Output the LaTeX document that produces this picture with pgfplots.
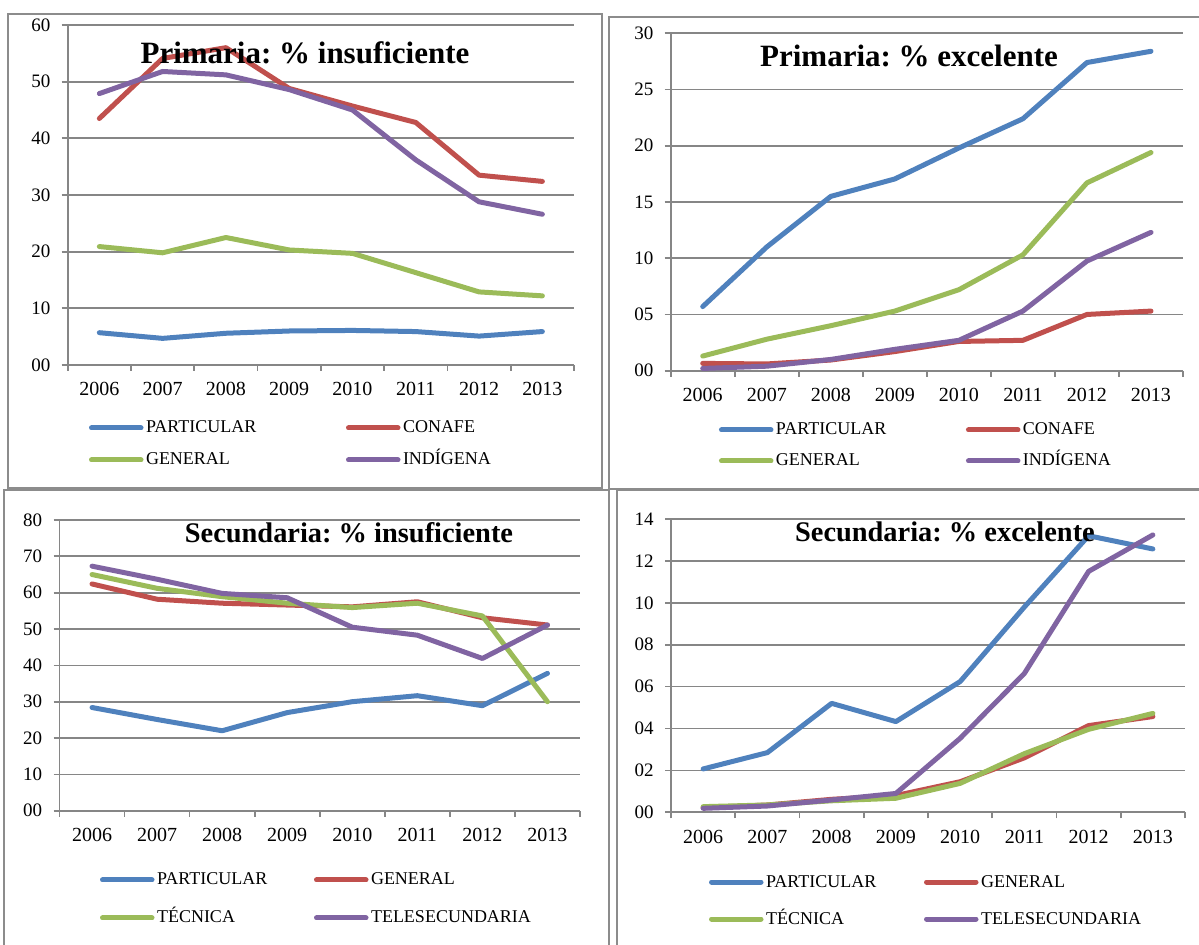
\documentclass[border=0pt]{standalone}
\usepackage{pgfplots}
\usepackage{pgfplotstable}
\pgfplotsset{compat=1.18}
\usepackage{fontspec}
\setmainfont{Liberation Serif}
\definecolor{cBlue}{HTML}{4F81BD}
\definecolor{cRed}{HTML}{C0504D}
\definecolor{cGreen}{HTML}{9BBB59}
\definecolor{cPurple}{HTML}{8064A2}
\definecolor{gridgray}{RGB}{134,134,134}
\definecolor{boxgray}{RGB}{140,140,140}

\pgfplotstableread{
x a b c d
0 5.7 43.5 20.9 47.9
1 4.7 54.1 19.8 51.8
2 5.6 56.0 22.5 51.2
3 6.0 48.8 20.3 48.6
4 6.1 45.7 19.7 45.0
5 5.9 42.8 16.3 36.2
6 5.1 33.5 12.9 28.8
7 5.9 32.4 12.2 26.6
}\tabA
\pgfplotstableread{
x a b c d
0 5.7 0.65 1.3 0.2
1 11.0 0.6 2.8 0.4
2 15.5 0.95 4.0 1.0
3 17.05 1.7 5.3 1.9
4 19.8 2.6 7.2 2.7
5 22.4 2.7 10.3 5.3
6 27.4 5.0 16.7 9.75
7 28.4 5.3 19.4 12.3
}\tabB
\pgfplotstableread{
x a b c d
0 28.4 62.4 65.0 67.3
1 25.1 58.2 61.2 63.7
2 22.0 57.1 58.9 59.8
3 27.0 56.6 57.1 58.6
4 30.0 56.1 55.9 50.5
5 31.65 57.5 57.1 48.3
6 28.9 53.1 53.6 41.9
7 37.8 51.1 30.0 51.1
}\tabC
\pgfplotstableread{
x a b c d
0 2.07 0.22 0.27 0.19
1 2.85 0.35 0.35 0.30
2 5.2 0.62 0.55 0.59
3 4.33 0.8 0.67 0.9
4 6.24 1.46 1.38 3.53
5 9.8 2.6 2.8 6.63
6 13.2 4.14 3.96 11.5
7 12.57 4.57 4.72 13.24
}\tabD

\pgfplotsset{
  panel/.style={
    scale only axis, anchor=south west,
    xmin=-0.5, xmax=7.5,
    xtick={0,...,7}, xticklabels={2006,2007,2008,2009,2010,2011,2012,2013},
    minor xtick={-0.5,0.5,...,7.5},
    axis x line*=bottom, axis y line*=left,
    ymajorgrids, grid style={gridgray, line width=0.85pt},
    axis line style={gridgray, line width=0.85pt},
    tick align=outside, major tick length=3pt, minor tick length=3pt,
    major x tick style={draw=none},
    minor x tick style={gridgray, line width=0.85pt},
    ytick style={gridgray, line width=0.85pt},
    /pgf/number format/assume math mode=true,
    yticklabel style={font=\fontsize{9.5}{11}\selectfont, inner sep=0pt, xshift=-5.5pt},
    xticklabel style={font=\fontsize{10}{12}\selectfont, inner sep=0pt, yshift=-5.5pt},
    every axis plot/.append style={line width=2.5pt, line cap=round, line join=round, mark=none},
    legend columns=2, legend cell align=left,
    legend image code/.code={\path (0pt,0pt) (26.5pt,0pt); \draw[line width=2.5pt, line cap=round] (0.5pt,0pt) -- (25.25pt,0pt);},
    legend style={draw=none, fill=none, inner sep=0pt, outer sep=0pt, anchor=north west,
      column sep=0pt,
      nodes={inner sep=0pt, text height=7pt, text depth=2pt, font=\fontsize{9}{10}\selectfont},
      /tikz/every odd column/.append style={column sep=0pt}},
    title style={anchor=base, inner sep=0pt, yshift=-6.3pt},
  }
}

\begin{document}
\begin{tikzpicture}
\useasboundingbox (0pt,0pt) rectangle (599.5pt,472pt);
% panel boxes
\draw[boxgray, line width=1pt] (4.2pt,228pt) rectangle (300.85pt,465pt);
\draw[boxgray, line width=1pt] (304.5pt,227.5pt) rectangle (605pt,463.5pt);
\draw[boxgray, line width=1pt] (2.15pt,-10pt) rectangle (304.65pt,227pt);
\draw[boxgray, line width=1pt] (308.5pt,-10pt) rectangle (605pt,227pt);

% Panel 1
\begin{axis}[panel, at={(33.85pt,289.5pt)}, width=253.15pt, height=170pt,
  ymin=0, ymax=60, ytick={0,10,...,60}, yticklabels={00,10,20,30,40,50,60},
  title={Primaria: \% insuficiente},
  title style={at={(axis description cs:0.4687,0.889)}, font=\fontsize{15.5}{18}\bfseries\selectfont\frenchspacing},
  legend style={at={(axis description cs:0.0401,-0.1588)}, row sep=7pt}]
\addplot[cBlue] table[x=x,y=a]{\tabA};
\addplot[cRed] table[x=x,y=b]{\tabA};
\addplot[cGreen] table[x=x,y=c]{\tabA};
\addplot[cPurple] table[x=x,y=d]{\tabA};
\legend{\makebox[99.5pt][l]{PARTICULAR},CONAFE,GENERAL,INDÍGENA}
\end{axis}

% Panel 2
\begin{axis}[panel, at={(335.35pt,286.65pt)}, width=256.15pt, height=168.7pt,
  ymin=0, ymax=30, ytick={0,5,...,30}, yticklabels={00,05,10,15,20,25,30},
  title={Primaria: \% excelente},
  title style={at={(axis description cs:0.4652,0.903)}, font=\fontsize{15.5}{18}\bfseries\selectfont\frenchspacing},
  legend style={at={(axis description cs:0.0923,-0.149)}, row sep=6.5pt}]
\addplot[cBlue] table[x=x,y=a]{\tabB};
\addplot[cRed] table[x=x,y=b]{\tabB};
\addplot[cGreen] table[x=x,y=c]{\tabB};
\addplot[cPurple] table[x=x,y=d]{\tabB};
\legend{\makebox[94.5pt][l]{PARTICULAR},CONAFE,GENERAL,INDÍGENA}
\end{axis}

% Panel 3
\begin{axis}[panel, at={(29.75pt,66.65pt)}, width=260.25pt, height=145.35pt,
  ymin=0, ymax=80, ytick={0,10,...,80}, yticklabels={00,10,20,30,40,50,60,70,80},
  title={Secundaria: \% insuficiente},
  title style={at={(axis description cs:0.5562,0.925)}, font=\fontsize{14.2}{17}\bfseries\selectfont\frenchspacing},
  legend style={at={(axis description cs:0.0759,-0.2074)}, row sep=10pt}]
\addplot[cBlue] table[x=x,y=a]{\tabC};
\addplot[cRed] table[x=x,y=b]{\tabC};
\addplot[cGreen] table[x=x,y=c]{\tabC};
\addplot[cPurple] table[x=x,y=d]{\tabC};
\legend{\makebox[78pt][l]{PARTICULAR},GENERAL,TÉCNICA,TELESECUNDARIA}
\end{axis}

% Panel 4
\begin{axis}[panel, at={(335.5pt,65.85pt)}, width=257pt, height=146.65pt,
  ymin=0, ymax=14, ytick={0,2,...,14}, yticklabels={00,02,04,06,08,10,12,14},
  title={Secundaria: \% excelente},
  title style={at={(axis description cs:0.533,0.925)}, font=\fontsize{14.2}{17}\bfseries\selectfont\frenchspacing},
  legend style={at={(axis description cs:0.072,-0.207)}, row sep=9.5pt}]
\addplot[cBlue] table[x=x,y=a]{\tabD};
\addplot[cRed] table[x=x,y=b]{\tabD};
\addplot[cGreen] table[x=x,y=c]{\tabD};
\addplot[cPurple] table[x=x,y=d]{\tabD};
\legend{\makebox[78.5pt][l]{PARTICULAR},GENERAL,TÉCNICA,TELESECUNDARIA}
\end{axis}
\end{tikzpicture}
\end{document}
